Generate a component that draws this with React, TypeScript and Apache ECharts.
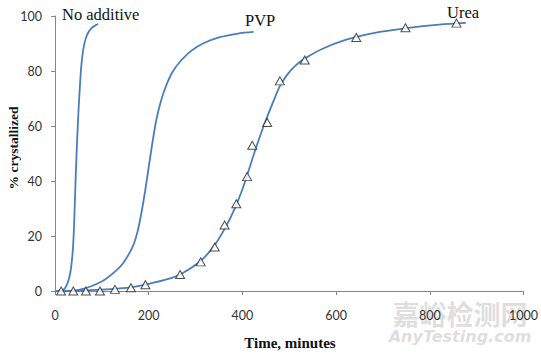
import React, { useEffect, useRef } from "react";
import * as echarts from "echarts";

// ---- Data ----
const xTicks = [0, 200, 400, 600, 800, 1000];
const yTicks = [0, 20, 40, 60, 80, 100];

const noAdditiveTime = [0, 10, 18, 24, 29, 33, 36, 38.5, 40.5, 42.5, 44.5, 47, 50, 53, 56, 60, 65, 71, 78, 85, 92];
const noAdditiveValue = [0, 0, 0.5, 1.8, 4, 7, 11, 16, 23, 33, 43, 54, 65, 74, 81.5, 87.5, 91.5, 94, 95.6, 96.5, 97.1];

const pvpTime = [0, 30, 60, 81, 105, 131, 145, 158, 168, 176, 184, 192, 200, 208, 216, 226, 238, 252, 270, 292, 316, 350, 390, 424];
const pvpValue = [0, 0, 0.8, 2, 4, 7.5, 10, 13.5, 17, 21.5, 28, 36, 45, 54, 62, 69, 75, 80, 84, 87.5, 90, 92.2, 93.6, 94.2];

const ureaCurveTime = [0, 60, 120, 160, 200, 240, 270, 310, 340, 365, 385, 400, 410, 425, 445, 465, 480, 495, 512, 533, 570, 620, 680, 750, 820, 877];
const ureaCurveValue = [0, 0.2, 0.7, 1.3, 2.6, 4.3, 6.3, 10.8, 16.5, 23.5, 30.5, 37, 42, 50, 59.8, 68.5, 74.5, 78.5, 81.8, 84.5, 88, 91.3, 93.8, 95.6, 96.9, 97.5];

const ureaPointTime = [13, 39, 66, 96, 128, 162, 193, 267, 311, 341, 362, 387, 410, 421, 453, 480, 533, 643, 748, 857];
const ureaPointValue = [0, 0, 0, 0, 0.6, 1.2, 2.3, 6, 10.6, 16, 24, 31.7, 41.6, 53, 61.3, 76.4, 84, 92.2, 95.7, 97.4];

const seriesLabels = ["No additive", "PVP", "Urea"];
const xTitle = "Time, minutes";
const yTitle = "% crystallized";
const watermark = ["嘉峪检测网", "AnyTesting.com"];

const zip = (a: number[], b: number[]) => a.map((v, i) => [v, b[i]]);

export default function App() {
  const ref = useRef<HTMLDivElement>(null);
  useEffect(() => {
    if (!ref.current) return;
    const chart = echarts.init(ref.current, undefined, { renderer: "svg" });
    const lineColor = "#4a7ebb";
    const axisColor = "#868686";
    const labelFont = "Lato, 'Liberation Sans', sans-serif";
    const serif = "'Liberation Serif', 'Times New Roman', serif";
    const lineSeries = (name: string, t: number[], v: number[]) => ({
      name,
      type: "line",
      data: zip(t, v),
      smooth: 0.3,
      showSymbol: false,
      symbol: "none",
      lineStyle: { color: lineColor, width: 1.8 },
      z: 2,
    });
    chart.setOption({
      animation: false,
      backgroundColor: "#ffffff",
      grid: { left: 55, right: 17, top: 16, bottom: 63 },
      xAxis: {
        type: "value",
        min: xTicks[0],
        max: xTicks[xTicks.length - 1],
        interval: 200,
        axisLine: { show: true, lineStyle: { color: axisColor, width: 1 } },
        axisTick: { show: true, length: 4, inside: false, lineStyle: { color: axisColor } },
        splitLine: { show: false },
        axisLabel: { margin: 18, color: "#333", fontSize: 12.5, fontFamily: labelFont, formatter: (v: number) => String(v) },
      },
      yAxis: {
        type: "value",
        min: yTicks[0],
        max: yTicks[yTicks.length - 1],
        interval: 20,
        axisLine: { show: true, lineStyle: { color: axisColor, width: 1 } },
        axisTick: { show: true, length: 4, lineStyle: { color: axisColor } },
        splitLine: { show: false },
        axisLabel: { margin: 13, color: "#333", fontSize: 12.5, fontFamily: labelFont },
      },
      series: [
        lineSeries("No additive", noAdditiveTime, noAdditiveValue),
        lineSeries("PVP", pvpTime, pvpValue),
        lineSeries("Urea", ureaCurveTime, ureaCurveValue),
        {
          name: "Urea data",
          type: "scatter",
          data: zip(ureaPointTime, ureaPointValue),
          symbol: "triangle",
          symbolSize: [9, 8],
          itemStyle: { color: "#ffffff", borderColor: "#222", borderWidth: 1 },
          z: 3,
        },
      ],
      graphic: [
        { type: "text", x: 62, y: 14, style: { text: seriesLabels[0], font: `16.5px ${serif}`, fill: "#111", verticalAlign: "middle" } },
        { type: "text", x: 245, y: 20, style: { text: seriesLabels[1], font: `16.5px ${serif}`, fill: "#111", verticalAlign: "middle" } },
        { type: "text", x: 447, y: 12.5, style: { text: seriesLabels[2], font: `16.5px ${serif}`, fill: "#111", verticalAlign: "middle" } },
        { type: "text", x: 290, y: 343, style: { text: xTitle, font: `bold 15px ${serif}`, fill: "#111", align: "center", verticalAlign: "middle" } },
        { type: "text", x: 13, y: 148, rotation: Math.PI / 2, style: { text: yTitle, font: `bold 13.5px ${serif}`, fill: "#111", align: "center", verticalAlign: "middle" } },
        { type: "text", x: 460, y: 313, z: -1, style: { text: watermark[0], font: "bold 27px 'Noto Sans CJK SC', sans-serif", fill: "rgba(190,190,190,0.5)", align: "center", verticalAlign: "middle" } },
        { type: "text", x: 460, y: 336, z: -1, style: { text: watermark[1], font: "italic bold 16px 'DejaVu Sans', sans-serif", fill: "rgba(190,190,190,0.5)", align: "center", verticalAlign: "middle" } },
      ],
    });
    return () => chart.dispose();
  }, []);
  return <div ref={ref} style={{ position: "fixed", left: 0, top: 0, width: 541, height: 354 }} />;
}
